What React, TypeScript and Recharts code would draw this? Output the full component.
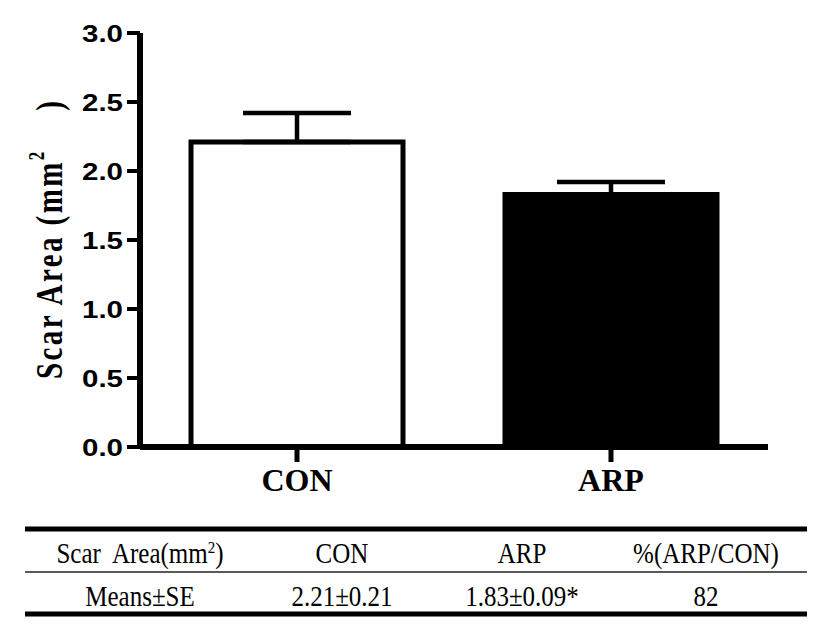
import { Bar, BarChart, Cell, ErrorBar, XAxis, YAxis } from "recharts";

const categories = ["CON", "ARP"];
const means = [2.21, 1.83];
const errors = [0.21, 0.09];
const yTicks = [0, 0.5, 1, 1.5, 2, 2.5, 3];

const tableHeader = ["Scar  Area(mm", "CON", "ARP", "%(ARP/CON)"];
const tableRow = ["Means±SE", "2.21±0.21", "1.83±0.09*", "82"];

const barFills = ["#ffffff", "#000000"];
const colX = [140, 342, 522, 706];

const data = categories.map((name, i) => ({
  name,
  mean: means[i],
  // one-sided (upper) error bar
  err: [0, errors[i]],
}));

function YTick({ x, y, payload }: any) {
  return (
    <text
      x={x}
      y={y}
      dy={9}
      textAnchor="end"
      fontFamily="Liberation Sans, Arial, sans-serif"
      fontWeight="bold"
      fontSize={23}
      fill="#000"
      textLength={41}
      lengthAdjust="spacingAndGlyphs"
    >
      {Number(payload.value).toFixed(1)}
    </text>
  );
}

function XTick({ x, y, payload }: any) {
  return (
    <text
      x={x}
      y={y}
      dy={27}
      textAnchor="middle"
      fontFamily="Liberation Serif, Times New Roman, serif"
      fontWeight="bold"
      fontSize={32}
      fill="#000"
    >
      {payload.value}
    </text>
  );
}

function YLabel({ viewBox }: any) {
  const cx = viewBox.x + 49;
  const cy = viewBox.y + viewBox.height / 2;
  return (
    <text
      transform={`translate(${cx},${cy}) rotate(-90) scale(1,1.3)`}
      textAnchor="middle"
      dominantBaseline="central"
      fontFamily="Liberation Serif, Times New Roman, serif"
      fontWeight="bold"
      fontSize={29}
      fill="#000"
      style={{ whiteSpace: "pre" }}
      textLength={278}
      lengthAdjust="spacing"
    >
      Scar Area (mm
      <tspan dy={-10} fontSize={17}>
        2
      </tspan>
      <tspan dy={10}>{"    )"}</tspan>
    </text>
  );
}

function ResultTable() {
  const font = "Liberation Serif, Times New Roman, serif";
  return (
    <svg
      width={827}
      height={631}
      style={{ position: "absolute", left: 0, top: 0, pointerEvents: "none" }}
    >
      <line x1={25} x2={807} y1={529} y2={529} stroke="#000" strokeWidth={5} />
      <line x1={25} x2={807} y1={572} y2={572} stroke="#222" strokeWidth={1.5} />
      <line x1={25} x2={807} y1={614} y2={614} stroke="#000" strokeWidth={5} />
      {tableHeader.map((t, i) => (
        <text
          key={"h" + i}
          transform={`translate(${colX[i]},563) scale(1,1.15)`}
          textAnchor="middle"
          fontFamily={font}
          fontSize={25}
          fill="#000"
          style={{ whiteSpace: "pre" }}
        >
          {t}
          {i === 0 && (
            <>
              <tspan dy={-9} fontSize={15}>
                2
              </tspan>
              <tspan dy={9}>)</tspan>
            </>
          )}
        </text>
      ))}
      {tableRow.map((t, i) => (
        <text
          key={"r" + i}
          transform={`translate(${colX[i]},606) scale(1,1.15)`}
          textAnchor="middle"
          fontFamily={font}
          fontSize={25}
          fill="#000"
        >
          {t}
        </text>
      ))}
    </svg>
  );
}

export default function App() {
  return (
    <div style={{ position: "absolute", left: 0, top: 0, width: 827, height: 631, background: "#fff" }}>
      <BarChart
        width={827}
        height={500}
        data={data}
        margin={{ top: 33, right: 59, bottom: 0, left: 0 }}
        barSize={212}
      >
        <XAxis
          dataKey="name"
          height={53}
          axisLine={{ stroke: "#000", strokeWidth: 6 }}
          tickLine={{ stroke: "#000", strokeWidth: 5 }}
          tickSize={15}
          tickMargin={2}
          tick={<XTick />}
          interval={0}
        />
        <YAxis
          width={140}
          domain={[0, 3]}
          ticks={yTicks}
          axisLine={{ stroke: "#000", strokeWidth: 6 }}
          tickLine={{ stroke: "#000", strokeWidth: 4 }}
          tickSize={13}
          tickMargin={4}
          tick={<YTick />}
          label={{ content: (p: any) => <YLabel {...p} /> }}
        />
        <Bar dataKey="mean" stroke="#000" strokeWidth={5} isAnimationActive={false}>
          {data.map((d, i) => (
            <Cell key={d.name} fill={barFills[i]} />
          ))}
          <ErrorBar dataKey="err" width={54} stroke="#000" strokeWidth={4.5} direction="y" />
        </Bar>
      </BarChart>
      <ResultTable />
    </div>
  );
}
